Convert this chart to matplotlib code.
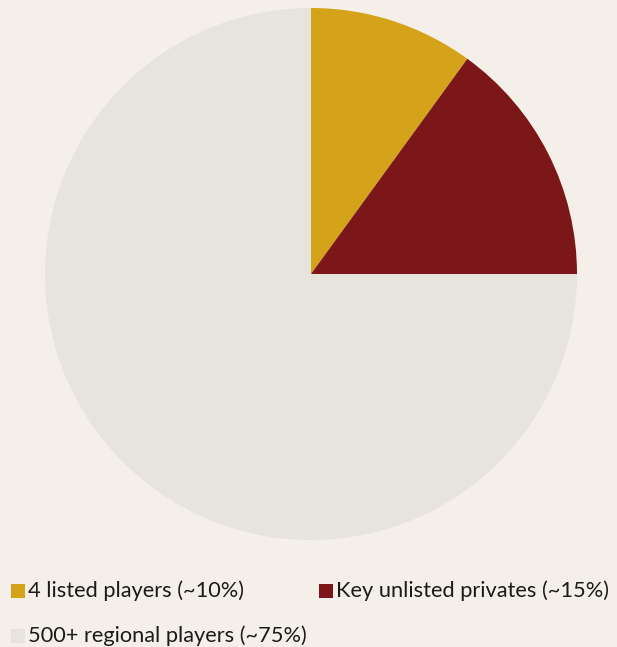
import matplotlib.pyplot as plt
from matplotlib.patches import Rectangle

plt.rcParams['font.family'] = ['Lato', 'DejaVu Sans']

# market share split
labels = ["4 listed players (~10%)", "Key unlisted privates (~15%)", "500+ regional players (~75%)"]
shares = [10, 15, 75]
colors = ["#D4A31A", "#7B1719", "#E7E3DD"]
bg = "#F4F0E9"

W, H = 617, 647
fig = plt.figure(figsize=(W / 100, H / 100), dpi=100, facecolor=bg)
ax = fig.add_axes([45 / W, 1 - 540 / H, 532 / W, 532 / H])
ax.set_facecolor(bg)

ax.pie(shares, colors=colors, startangle=90, counterclock=False, radius=1,
       wedgeprops=dict(linewidth=0))
ax.set_xlim(-1, 1)
ax.set_ylim(-1, 1)
ax.set_aspect('equal')
ax.axis('off')

# hand-placed legend: two entries on the first row, one on the second
slots = [(11, 597), (319, 597), (11, 642)]
for (x, base), lab, c in zip(slots, labels, colors):
    fig.patches.append(Rectangle((x / W, 1 - (base + 1) / H), 14 / W, 14 / H,
                                 transform=fig.transFigure, facecolor=c,
                                 edgecolor='none'))
    fig.text((x + 17) / W, 1 - base / H, lab, fontsize=15.7, color='#1a1a1a',
             ha='left', va='baseline')

fig.savefig("out.png", dpi=100, facecolor=bg)
